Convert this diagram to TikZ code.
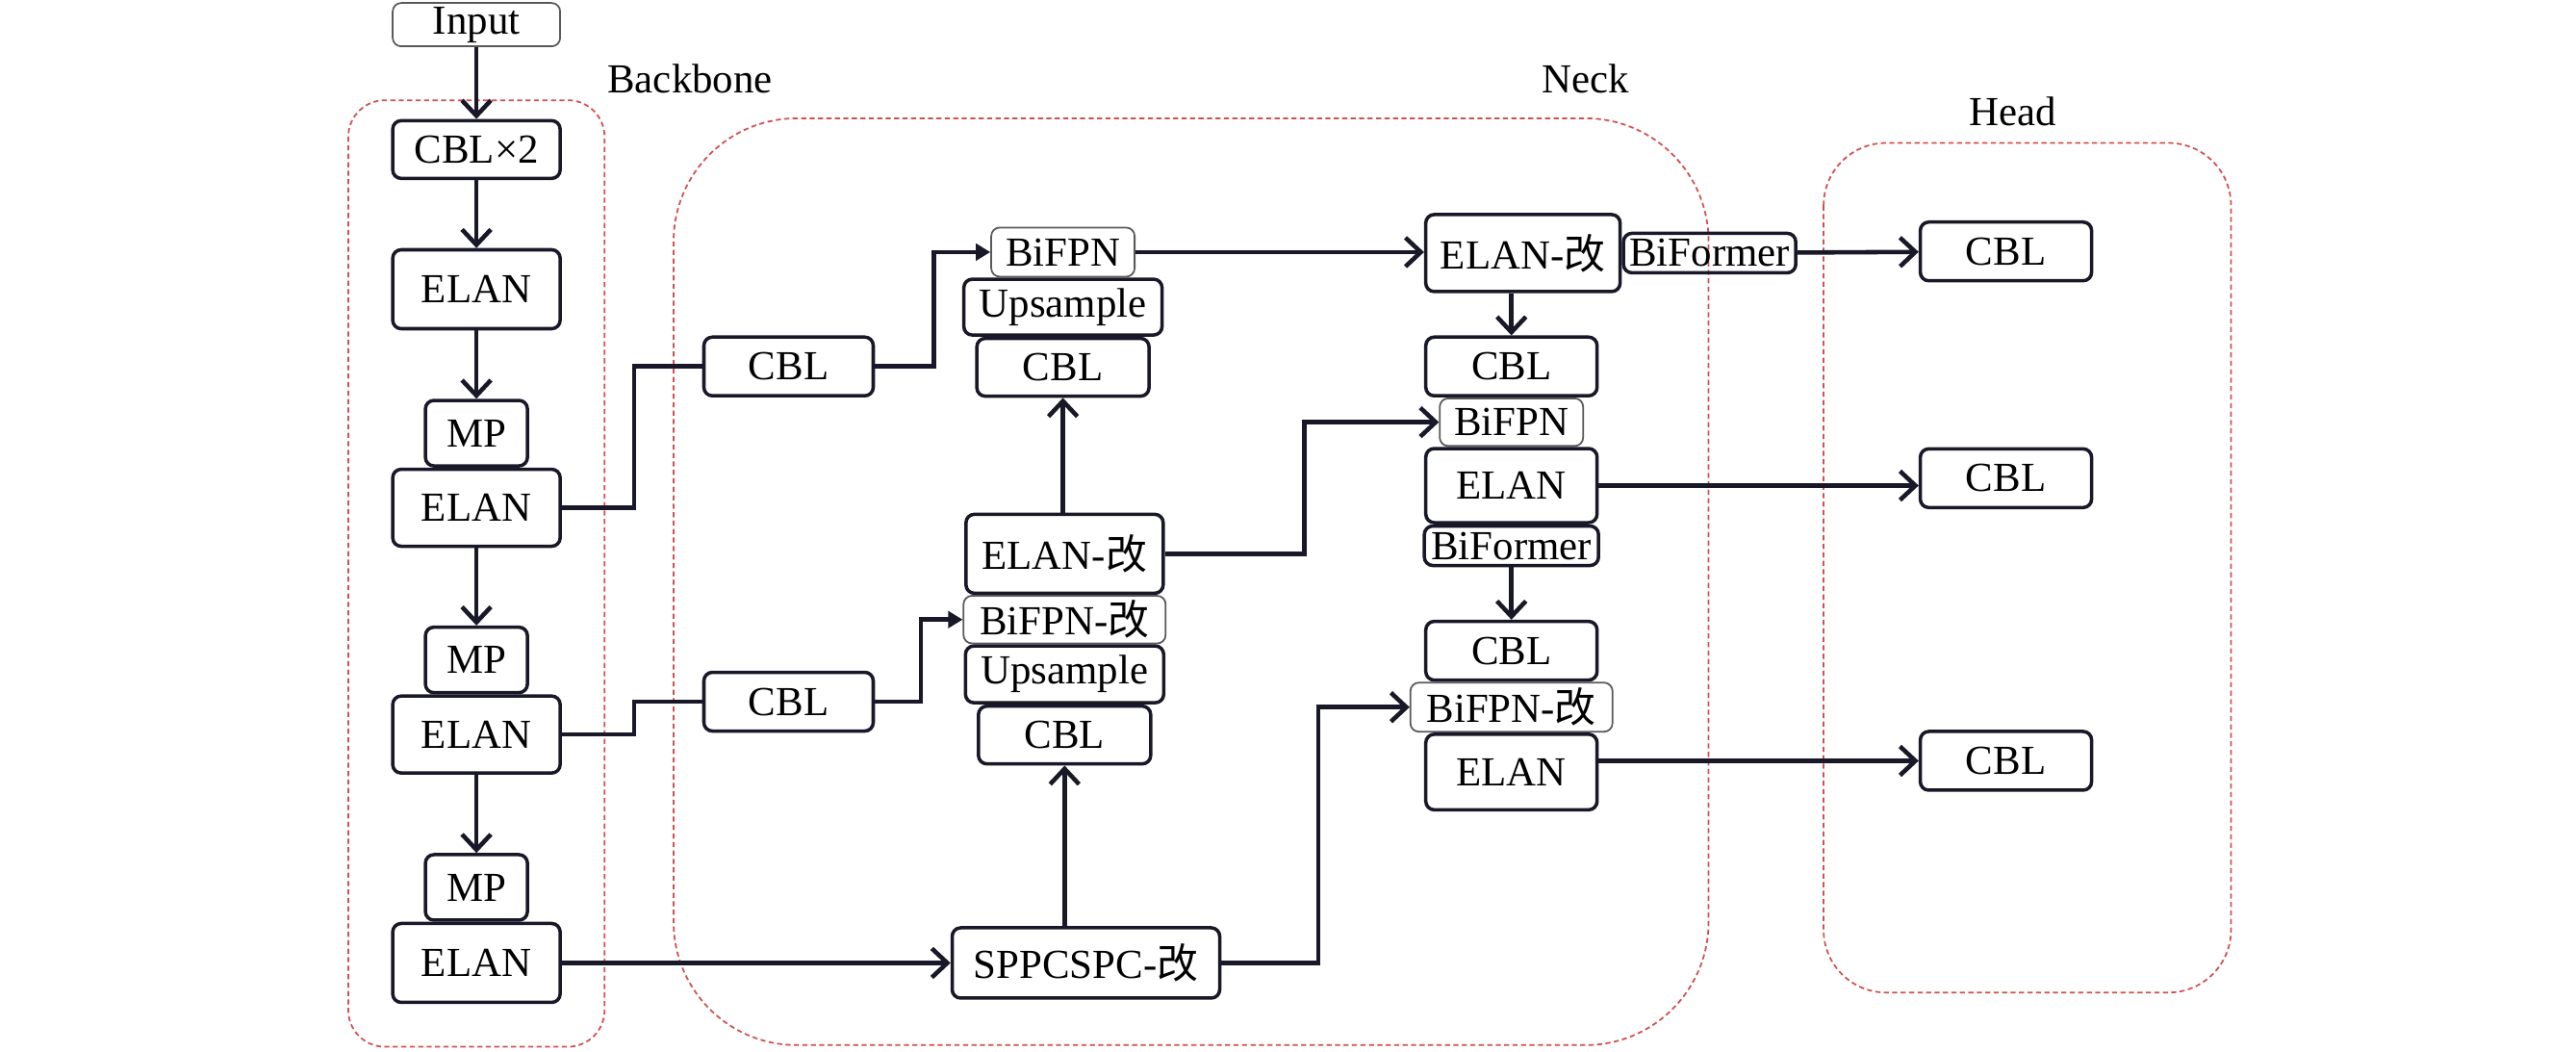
\documentclass[tikz,border=0pt]{standalone}
\usepackage{fontspec}
\setmainfont{Liberation Serif}
\newfontfamily\cjkfont{Noto Sans CJK SC}
\usepackage{xcolor}
\usetikzlibrary{positioning,arrows.meta,calc}
\definecolor{ink}{RGB}{24,24,40}
\definecolor{grpred}{RGB}{210,80,80}
\newcommand{\gai}{{\cjkfont 改}}

\begin{document}
\begin{tikzpicture}[
    x=0.17073mm, y=-0.17073mm,
    font=\fontsize{12.2}{14}\selectfont,
    op/.style={rectangle, rounded corners=2.5pt, draw=ink, line width=1pt, inner sep=0pt},
    lite/.style={op, draw=gray!70!black, line width=0.5pt},
    sz/.style 2 args={minimum width=#1mm, minimum height=#2mm},
    link/.style={line width=1.3pt, draw=ink},
    arr/.style={link, -{Straight Barb[length=1.6mm,width=3mm]}},
    arrf/.style={link, -{Triangle[length=1.5mm,width=1.7mm]}},
    grp/.style={draw=grpred, line width=0.5pt, dash pattern=on 1.5pt off 1pt},
    title/.style={font=\fontsize{12.2}{14}\selectfont}
]
\useasboundingbox (0,0) rectangle (1568,640);

% =========================================================
% Group frames
% =========================================================
\draw[grp, rounded corners=3.8mm]  (212,61) rectangle (368,637);
\draw[grp, rounded corners=12.8mm] (410,72) rectangle (1040,636);
\draw[grp, rounded corners=6.5mm]  (1110,87) rectangle (1358,604);

\node[title] (bb_t) at (420,48)  {Backbone};
\node[title] (nk_t) at (965,48)  {Neck};
\node[title] (hd_t) at (1225,68) {Head};

% =========================================================
% Backbone
% =========================================================
\node[lite, sz={17.4}{4.5}] (bb_in)  at (290,15)  {Input};
\node[op,   sz={17.4}{6.0}] (bb_cbl) at (290,91)  {CBL×2};
\node[op,   sz={17.4}{8.2}] (bb_e1)  at (290,176) {ELAN};
\node[op,   sz={17.4}{8.0}] (bb_e2)  at (290,309) {ELAN};
\node[op,   sz={10.6}{6.8}, above=0pt of bb_e2] (bb_mp1) {MP};
\node[op,   sz={17.4}{8.0}] (bb_e3)  at (290,447) {ELAN};
\node[op,   sz={10.6}{6.8}, above=0pt of bb_e3] (bb_mp2) {MP};
\node[op,   sz={17.4}{8.2}] (bb_e4)  at (290,586) {ELAN};
\node[op,   sz={10.6}{6.8}, above=0pt of bb_e4] (bb_mp3) {MP};

\draw[arr] (bb_in)  -- (bb_cbl);
\draw[arr] (bb_cbl) -- (bb_e1);
\draw[arr] (bb_e1)  -- (bb_mp1);
\draw[arr] (bb_e2)  -- (bb_mp2);
\draw[arr] (bb_e3)  -- (bb_mp3);

% =========================================================
% Neck
% =========================================================
\node[op,   sz={17.6}{6.1}] (nk_c1) at (480,223) {CBL};
\node[op,   sz={17.6}{6.1}] (nk_c2) at (480,427) {CBL};

\node[op,   sz={17.9}{6.0}] (nk_c3) at (647,223.5) {CBL};
\node[op,   sz={20.6}{5.8}, above=0pt of nk_c3]  (nk_up1) {Upsample};
\node[lite, sz={14.9}{5.1}, above=0pt of nk_up1] (nk_bf1) {BiFPN};

\node[op,   sz={20.5}{8.2}] (nk_eg) at (648,337) {ELAN-\gai};
\node[lite, sz={21.0}{4.95}, below=0pt of nk_eg]  (nk_bf2) {BiFPN-\gai};
\node[op,   sz={20.6}{5.9},  below=0pt of nk_bf2] (nk_up2) {Upsample};
\node[op,   sz={17.9}{6.0},  below=0pt of nk_up2] (nk_c4)  {CBL};

\node[op,   sz={27.8}{7.3}] (nk_spp) at (661,586) {SPPCSPC-\gai};

\node[op,   sz={20.2}{8.0}] (nk_eg2) at (927,154) {ELAN-\gai};
\node[op,   sz={17.9}{4.1}, right=0pt of nk_eg2] (nk_bfm1) {BiFormer};

\node[op,   sz={17.8}{6.1}] (nk_c5) at (920,223) {CBL};
\node[lite, sz={14.9}{4.95}, below=0pt of nk_c5]  (nk_bf3)  {BiFPN};
\node[op,   sz={17.8}{7.7},  below=0pt of nk_bf3] (nk_e5)   {ELAN};
\node[op,   sz={18.1}{4.1},  below=0pt of nk_e5]  (nk_bfm2) {BiFormer};

\node[op,   sz={17.8}{6.1}] (nk_c6) at (920,396) {CBL};
\node[lite, sz={21.0}{5.1},  below=0pt of nk_c6]  (nk_bf4) {BiFPN-\gai};
\node[op,   sz={17.8}{7.85}, below=0pt of nk_bf4] (nk_e6)  {ELAN};

\draw[link] (bb_e2.east) -- ++(44,0) |- (nk_c1.west);
\draw[link] (bb_e3.east) -- ++(44,0) |- (nk_c2.west);
\draw[arr]  (bb_e4.east) -- (bb_e4.east -| nk_spp.west);

\draw[arrf] (nk_c1.east) -- ++(36,0) |- (nk_bf1.west);
\draw[arrf] (nk_c2.east) -- ++(28,0) |- (nk_bf2.west);
\draw[arr]  (nk_bf1.east) -- (nk_bf1.east -| nk_eg2.west);
\draw[arr]  (nk_eg.north -| nk_c3) -- (nk_c3.south);
\draw[arr]  (nk_spp.north -| nk_c4) -- (nk_c4.south);
\draw[arr]  (nk_eg.east) -- ++(85,0) |- (nk_bf3.west);
\draw[arr]  (nk_spp.east) -- ++(59,0) |- (nk_bf4.west);
\draw[arr]  (nk_eg2.south -| nk_c5) -- (nk_c5.north);
\draw[arr]  (nk_bfm2) -- (nk_c6);

% =========================================================
% Head
% =========================================================
\node[op, sz={17.8}{6.1}] (hd_c1) at (1221,153) {CBL};
\node[op, sz={17.8}{6.1}] (hd_c2) at (1221,291) {CBL};
\node[op, sz={17.8}{6.1}] (hd_c3) at (1221,463) {CBL};

\draw[arr] (nk_bfm1) -- (hd_c1);
\draw[arr] (nk_e5.east) -- (nk_e5.east -| hd_c2.west);
\draw[arr] (nk_e6.east |- hd_c3) -- (hd_c3.west);

\end{tikzpicture}
\end{document}
